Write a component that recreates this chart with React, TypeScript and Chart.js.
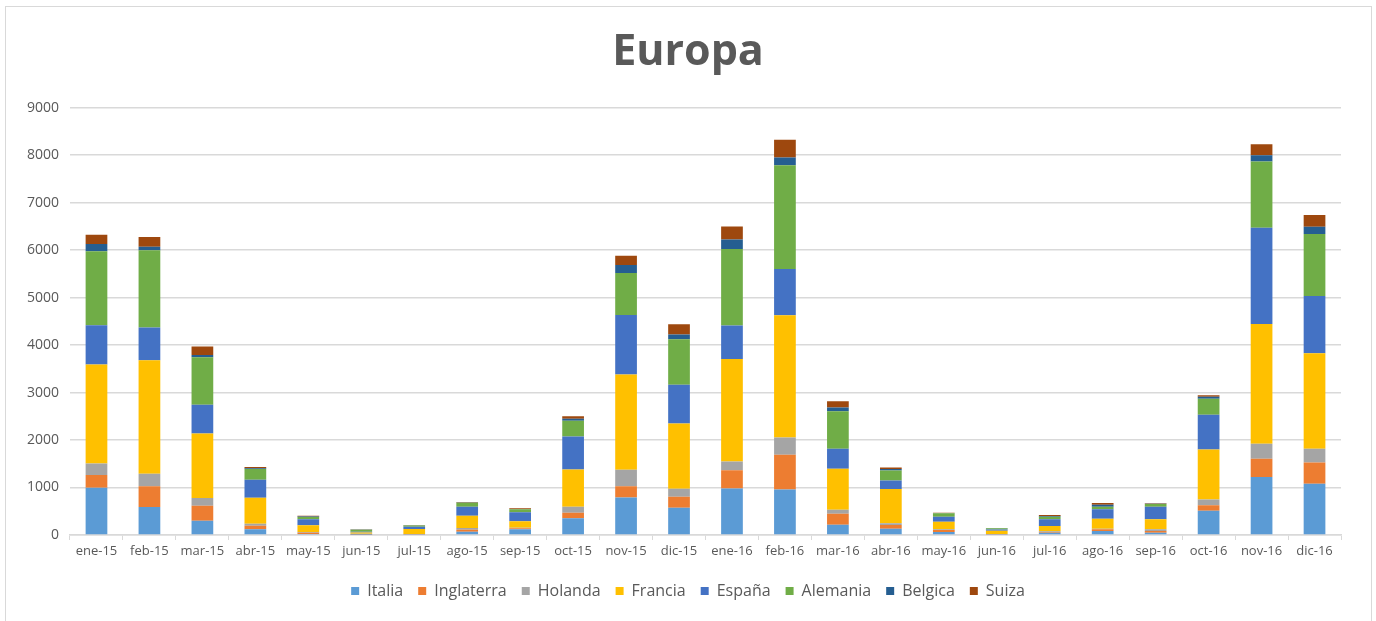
import React, { useEffect, useRef } from "react";
import { Chart, registerables } from "chart.js";

Chart.register(...registerables);

const categories = [
  "ene-15", "feb-15", "mar-15", "abr-15", "may-15", "jun-15", "jul-15", "ago-15", "sep-15", "oct-15", "nov-15", "dic-15",
  "ene-16", "feb-16", "mar-16", "abr-16", "may-16", "jun-16", "jul-16", "ago-16", "sep-16", "oct-16", "nov-16", "dic-16",
];

const italia = [995, 589, 301, 119, 20, 5, 10, 70, 119, 351, 792, 575, 981, 960, 217, 133, 63, 10, 49, 84, 49, 512, 1220, 1079];
const inglaterra = [267, 435, 316, 77, 30, 10, 5, 42, 21, 119, 232, 231, 380, 729, 231, 77, 42, 5, 14, 35, 35, 112, 385, 450];
const holanda = [246, 265, 161, 42, 15, 10, 5, 35, 14, 126, 350, 168, 189, 365, 84, 36, 14, 5, 14, 14, 35, 126, 315, 286];
const francia = [2082, 2391, 1360, 547, 140, 30, 105, 259, 134, 785, 2005, 1374, 2158, 2573, 862, 721, 161, 70, 112, 210, 211, 1052, 2524, 2012];
const espana = [826, 687, 603, 378, 125, 15, 50, 190, 189, 694, 1254, 814, 702, 973, 421, 183, 105, 25, 141, 197, 266, 729, 2027, 1206];
const alemania = [1557, 1627, 1002, 225, 50, 40, 25, 84, 63, 329, 883, 960, 1611, 2188, 793, 210, 71, 25, 55, 56, 56, 336, 1394, 1303];
const belgica = [154, 77, 49, 15, 10, 5, 5, 5, 5, 42, 168, 98, 204, 161, 77, 28, 5, 5, 14, 42, 5, 42, 133, 156];
const suiza = [197, 203, 176, 30, 15, 5, 5, 10, 20, 57, 198, 217, 273, 372, 133, 36, 10, 5, 20, 35, 11, 35, 231, 244];

const seriesNames = ["Italia", "Inglaterra", "Holanda", "Francia", "España", "Alemania", "Belgica", "Suiza"];
const seriesValues = [italia, inglaterra, holanda, francia, espana, alemania, belgica, suiza];
const seriesColors = ["#5B9BD5", "#ED7D31", "#A5A5A5", "#FFC000", "#4472C4", "#70AD47", "#255E91", "#9E480E"];

const yMin = 0;
const yMax = 9000;
const yStep = 1000;

export default function App() {
  const canvasRef = useRef<HTMLCanvasElement | null>(null);

  useEffect(() => {
    if (!canvasRef.current) return;
    const chart = new Chart(canvasRef.current, {
      type: "bar",
      data: {
        labels: categories,
        datasets: seriesNames.map((name, i) => ({
          label: name,
          data: seriesValues[i],
          backgroundColor: seriesColors[i],
          borderWidth: 0,
          barPercentage: 0.41,
          categoryPercentage: 1,
          yAxisID: "y",
        })),
      },
      options: {
        responsive: false,
        animation: false,
        layout: { padding: { left: 0, right: 0, top: 0, bottom: 12 } },
        plugins: {
          title: {
            display: true,
            text: "Europa",
            color: "#595959",
            font: { family: "'Open Sans'", size: 43, weight: "bold" },
            padding: { top: 27, bottom: 29 },
          },
          legend: {
            position: "bottom",
            labels: {
              boxWidth: 8,
              boxHeight: 8,
              padding: 15,
              color: "#595959",
              font: { family: "'Open Sans'", size: 16 },
            },
          },
          tooltip: { enabled: false },
        },
        scales: {
          x: {
            stacked: true,
            grid: {
              offset: true,
              drawOnChartArea: false,
              drawTicks: true,
              tickLength: 5,
              color: "#d9d9d9",
            },
            border: { color: "#d9d9d9", width: 1.5 },
            ticks: {
              color: "#595959",
              font: { family: "'Open Sans'", size: 13 },
              padding: 3,
              maxRotation: 0,
              autoSkip: false,
            },
            afterFit: (scale: any) => {
              scale.height = 33;
            },
          },
          y: {
            stacked: true,
            position: "left",
            min: yMin,
            max: yMax,
            ticks: {
              stepSize: yStep,
              color: "#595959",
              font: { family: "'Open Sans'", size: 14 },
              padding: 11,
              callback: (v: any) => String(v),
            },
            grid: { color: "#d9d9d9", lineWidth: 1.5, drawTicks: false },
            border: { display: false },
            afterFit: (scale: any) => {
              scale.width = 70;
            },
          },
          yRightSpace: {
            type: "linear",
            position: "right",
            display: true,
            grid: { display: false, drawTicks: false },
            border: { display: false },
            ticks: { display: false },
            afterFit: (scale: any) => {
              scale.width = 35;
            },
          },
        },
      },
    });
    return () => chart.destroy();
  }, []);

  return (
    <div style={{ position: "fixed", left: 0, top: 0, width: 1376, height: 621, background: "#fff", overflow: "hidden" }}>
      <div
        style={{
          position: "absolute",
          left: 5,
          top: 6,
          width: 1367,
          height: 640,
          border: "1.5px solid #d9d9d9",
          boxSizing: "border-box",
        }}
      />
      <canvas ref={canvasRef} width={1376} height={621} style={{ position: "absolute", left: 0, top: 0, width: 1376, height: 621 }} />
    </div>
  );
}
